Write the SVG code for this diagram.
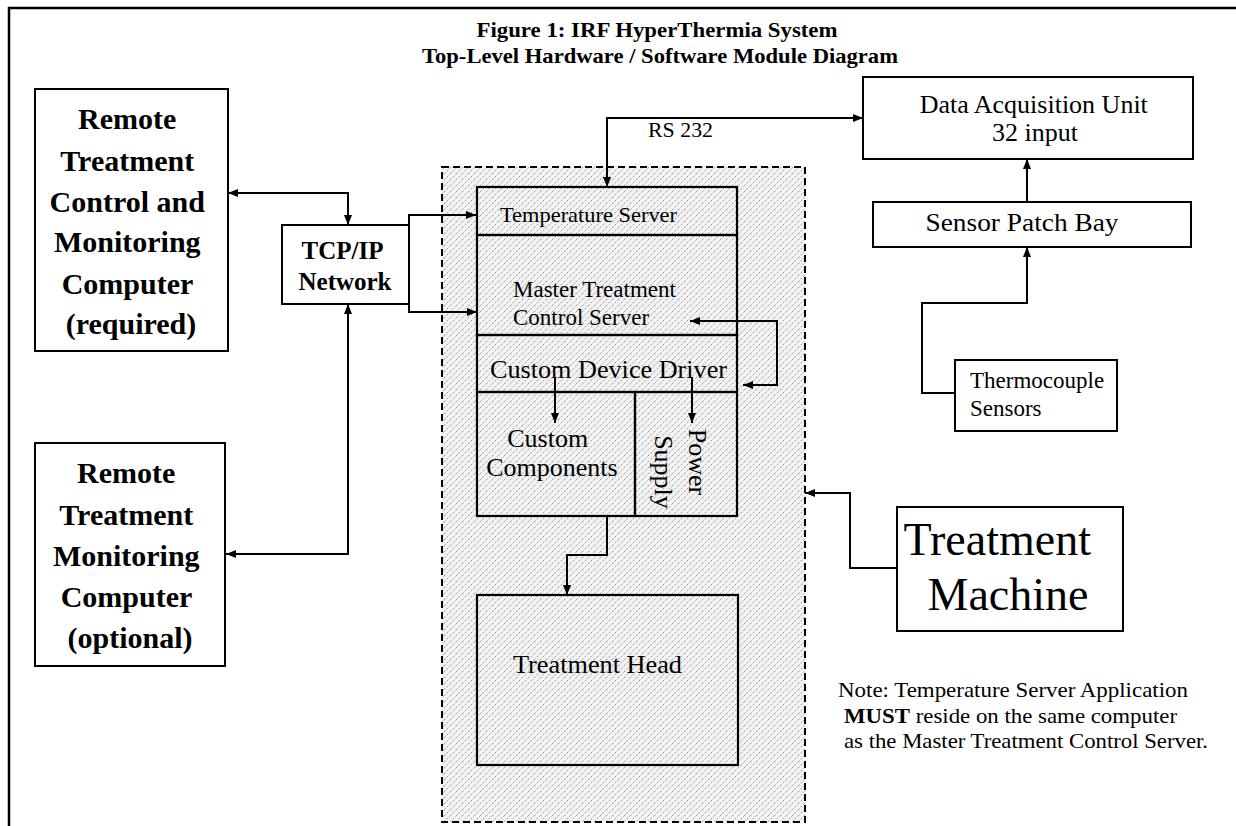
<svg xmlns="http://www.w3.org/2000/svg" width="1236" height="826" viewBox="0 0 1236 826">
<defs>
<pattern id="hatch" width="6" height="6" patternUnits="userSpaceOnUse">
<rect width="6" height="6" fill="#f2f2f2"/>
<path d="M0,6 L6,0" stroke="#8a8a8a" stroke-width="0.8" stroke-dasharray="2.2 1.6"/>
</pattern>
<marker id="ah" viewBox="0 0 10 8" refX="10" refY="4" markerWidth="10" markerHeight="8" markerUnits="userSpaceOnUse" orient="auto-start-reverse">
<path d="M0,0 L10,4 L0,8 z" fill="#000"/>
</marker>
</defs>
<style>
.box{fill:#fff;stroke:#000;stroke-width:2}
.ibox{fill:none;stroke:#000;stroke-width:2.2}
.ln{fill:none;stroke:#000;stroke-width:2}
.a2{marker-start:url(#ah);marker-end:url(#ah)}
.a1{marker-end:url(#ah)}
.t{font-family:"Liberation Serif","Times New Roman",serif;fill:#000}
.b{font-weight:bold}
</style>
<rect width="1236" height="826" fill="#fff"/>
<path d="M9,826 V8 H1236" fill="none" stroke="#000" stroke-width="2.5"/>

<g id="title">
<text class="t b" x="657" y="37" font-size="22" text-anchor="middle" textLength="361" lengthAdjust="spacingAndGlyphs">Figure 1: IRF HyperThermia System</text>
<text class="t b" x="660" y="63" font-size="22" text-anchor="middle" textLength="476" lengthAdjust="spacingAndGlyphs">Top-Level Hardware / Software Module Diagram</text>
</g>

<g id="container">
<rect x="442" y="167" width="363" height="655" fill="url(#hatch)" stroke="#000" stroke-width="2" stroke-dasharray="7 4"/>
</g>

<g id="remote-control">
<rect class="box" x="35" y="89" width="193" height="262"/>
<text class="t b" font-size="30" text-anchor="middle">
<tspan x="131" y="129">Remote</tspan>
<tspan x="131" y="171">Treatment</tspan>
<tspan x="131" y="212">Control and</tspan>
<tspan x="131" y="252">Monitoring</tspan>
<tspan x="131" y="294">Computer</tspan>
<tspan x="131" y="334">(required)</tspan>
</text>
</g>

<g id="remote-monitor">
<rect class="box" x="35" y="443" width="190" height="223"/>
<text class="t b" font-size="30" text-anchor="middle">
<tspan x="130" y="483">Remote</tspan>
<tspan x="130" y="525">Treatment</tspan>
<tspan x="130" y="566">Monitoring</tspan>
<tspan x="130" y="607">Computer</tspan>
<tspan x="130" y="648">(optional)</tspan>
</text>
</g>

<g id="tcpip">
<rect class="box" x="282" y="225" width="127" height="79"/>
<text class="t b" font-size="25" text-anchor="middle">
<tspan x="345" y="259">TCP/IP</tspan>
<tspan x="345" y="290">Network</tspan>
</text>
</g>

<g id="temperature-server">
<rect class="ibox" x="477" y="187" width="260" height="48"/>
<text class="t" x="500" y="222" font-size="21" textLength="177" lengthAdjust="spacingAndGlyphs">Temperature Server</text>
</g>

<g id="master-server">
<rect class="ibox" x="477" y="235" width="260" height="100"/>
<text class="t" font-size="23">
<tspan x="513" y="297">Master Treatment</tspan>
<tspan x="513" y="325">Control Server</tspan>
</text>
</g>

<g id="device-driver">
<rect class="ibox" x="477" y="335" width="260" height="57"/>
<text class="t" x="490" y="378" font-size="26" textLength="237" lengthAdjust="spacingAndGlyphs">Custom Device Driver</text>
</g>

<g id="custom-components">
<rect class="ibox" x="477" y="392" width="158" height="124"/>
<text class="t" font-size="26" text-anchor="middle">
<tspan x="551" y="447">Custom</tspan>
<tspan x="552" y="476">Components</tspan>
</text>
</g>

<g id="power-supply">
<rect class="ibox" x="635" y="392" width="102" height="124"/>
<text class="t" font-size="26" text-anchor="middle" transform="translate(689,462) rotate(90)">Power</text>
<text class="t" font-size="26" text-anchor="middle" transform="translate(655,472) rotate(90)">Supply</text>
</g>

<g id="treatment-head">
<rect class="ibox" x="477" y="595" width="261" height="170"/>
<text class="t" x="513" y="673" font-size="26" textLength="169" lengthAdjust="spacingAndGlyphs">Treatment Head</text>
</g>

<g id="daq">
<rect class="box" x="863" y="77" width="330" height="82"/>
<text class="t" font-size="26" text-anchor="middle">
<tspan x="1037" y="113">Data Acquisition Unit</tspan>
<tspan x="1035" y="141">32 input</tspan>
</text>
</g>

<g id="sensor-patch-bay">
<rect class="box" x="873" y="202" width="318" height="45"/>
<text class="t" x="1022" y="231" font-size="26" text-anchor="middle" textLength="193" lengthAdjust="spacingAndGlyphs">Sensor Patch Bay</text>
</g>

<g id="thermocouple">
<rect class="box" x="955" y="360" width="162" height="71"/>
<text class="t" font-size="23">
<tspan x="970" y="388">Thermocouple</tspan>
<tspan x="970" y="416">Sensors</tspan>
</text>
</g>

<g id="treatment-machine">
<rect class="box" x="897" y="507" width="226" height="124"/>
<text class="t" font-size="46" text-anchor="middle">
<tspan x="1003" y="555">Treatment</tspan>
<tspan x="1008" y="610">Machine</tspan>
</text>
</g>

<g id="note">
<text class="t" font-size="22">
<tspan x="838" y="697" textLength="350" lengthAdjust="spacingAndGlyphs">Note: Temperature Server Application</tspan>
<tspan x="844" y="723" textLength="333" lengthAdjust="spacingAndGlyphs"><tspan font-weight="bold">MUST</tspan> reside on the same computer</tspan>
<tspan x="844" y="748" textLength="364" lengthAdjust="spacingAndGlyphs">as the Master Treatment Control Server.</tspan>
</text>
</g>

<g id="connectors">
<path class="ln a2" d="M228,193 H348 V225"/>
<path class="ln a2" d="M348,304 V554 H226"/>
<path class="ln a2" d="M476,215 H409 V312 H477"/>
<path class="ln a2" d="M607,187 V118 H863"/>
<text class="t" x="648" y="137" font-size="22" textLength="65" lengthAdjust="spacingAndGlyphs">RS 232</text>
<path class="ln a1" d="M1027,202 V159"/>
<path class="ln a1" d="M955,393 H922 V303 H1027 V247"/>
<path class="ln a1" d="M897,568 H850 V493 H805"/>
<path class="ln a2" d="M690,321 H777 V385 H743"/>
<path class="ln a1" d="M555,377 V423"/>
<path class="ln a1" d="M692,377 V423"/>
<path class="ln a1" d="M607,516 V555 H567 V595"/>
</g>
</svg>
